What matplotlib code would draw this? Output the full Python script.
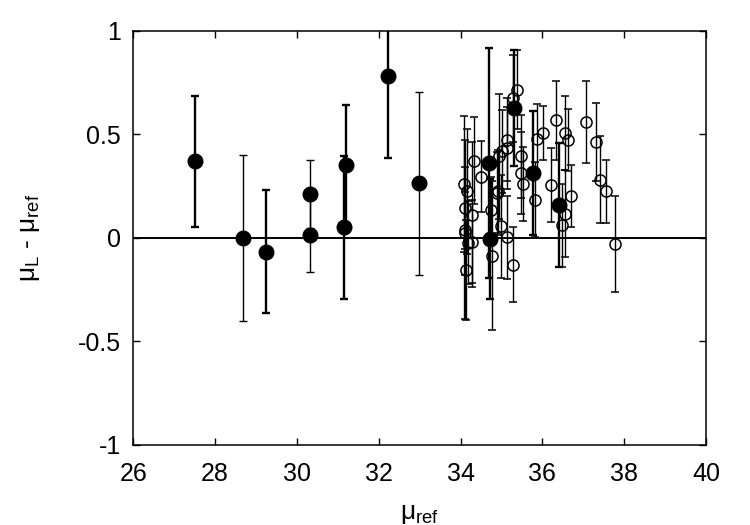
import matplotlib
matplotlib.use('Agg')
from matplotlib import pyplot as plt

plt.rcParams['font.family'] = ['Liberation Sans', 'DejaVu Sans']
plt.rcParams['mathtext.fontset'] = 'custom'
plt.rcParams['mathtext.rm'] = 'Liberation Sans'
plt.rcParams['mathtext.it'] = 'Liberation Sans'

# filled points, thick error bars
fill_x = [27.51, 29.24, 31.21, 31.15, 32.22, 34.69, 34.72, 35.31, 35.78, 36.41]
fill_y = [0.369, -0.066, 0.350, 0.050, 0.780, 0.361, -0.006, 0.627, 0.313, 0.160]
fill_e = [0.318, 0.295, 0.293, 0.343, 0.395, 0.556, 0.290, 0.280, 0.300, 0.300]

# filled points, thin error bars
fthin_x = [28.69, 30.32, 30.32, 32.99]
fthin_y = [0.000, 0.211, 0.016, 0.263]
fthin_e = [0.400, 0.163, 0.180, 0.440]

# open points
open_x = [34.08, 34.11, 34.11, 34.13, 34.15, 34.19, 34.27, 34.29, 34.33, 34.51,
          34.74, 34.78, 34.88, 34.92, 34.94, 35.00, 35.01, 35.13, 35.13, 35.14,
          35.29, 35.29, 35.39, 35.49, 35.49, 35.53, 35.82, 35.86, 36.02, 36.22,
          36.33, 36.49, 36.55, 36.55, 36.63, 36.70, 37.06, 37.31, 37.42, 37.55,
          37.77, 34.12]
open_y = [0.260, 0.144, 0.023, -0.155, 0.224, -0.023, 0.111, -0.018, 0.372, 0.296,
          0.135, -0.087, 0.216, 0.224, 0.393, 0.055, 0.417, 0.003, 0.474, 0.434,
          -0.130, 0.675, 0.716, 0.393, 0.313, 0.261, 0.184, 0.477, 0.506, 0.256,
          0.567, 0.060, 0.506, 0.116, 0.474, 0.200, 0.559, 0.463, 0.280, 0.224,
          -0.029, 0.040]
open_e = [0.330, 0.200, 0.200, 0.240, 0.300, 0.200, 0.350, 0.200, 0.210, 0.170,
          0.160, 0.360, 0.200, 0.200, 0.300, 0.250, 0.200, 0.200, 0.200, 0.200,
          0.180, 0.210, 0.190, 0.200, 0.200, 0.180, 0.180, 0.170, 0.130, 0.180,
          0.190, 0.200, 0.180, 0.210, 0.150, 0.150, 0.200, 0.190, 0.210, 0.150,
          0.230, 0.430]

fig = plt.figure(figsize=(7.5, 5.25), dpi=100)
ax = fig.add_axes([0.1777, 0.1524, 0.7636, 0.7891])

ax.axhline(0, color='black', lw=1.4, zorder=1)

# open circles (the last one has a thicker bar)
ax.errorbar(open_x[:-1], open_y[:-1], yerr=open_e[:-1], fmt='o', ms=8,
            mfc='none', mec='black', mew=1.1, ecolor='black', elinewidth=1.0,
            capsize=3, capthick=1.0, zorder=2)
ax.errorbar(open_x[-1:], open_y[-1:], yerr=open_e[-1:], fmt='o', ms=8,
            mfc='none', mec='black', mew=1.1, ecolor='black', elinewidth=1.7,
            capsize=3, capthick=1.7, zorder=2)

ax.errorbar(fthin_x, fthin_y, yerr=fthin_e, fmt='o', ms=10.5, color='black',
            elinewidth=1.0, capsize=3, capthick=1.0, zorder=3)
ax.errorbar(fill_x, fill_y, yerr=fill_e, fmt='o', ms=10.5, color='black',
            elinewidth=1.7, capsize=3, capthick=1.7, zorder=3)

ax.set_xlim(26, 40)
ax.set_ylim(-1, 1)
ax.set_xticks([26, 28, 30, 32, 34, 36, 38, 40])
ax.set_yticks([-1, -0.5, 0, 0.5, 1])
ax.set_yticklabels(['-1', '-0.5', '0', '0.5', '1'])
ax.tick_params(direction='in', length=5, width=1.0, top=True, right=True,
               labelsize=18, pad=9)
ax.tick_params(axis='x', pad=12)
for s in ax.spines.values():
    s.set_linewidth(1.1)

ax.set_xlabel(r'$\mu_{ref}$', fontsize=19, labelpad=12)
ax.set_ylabel(r'$\mu_L$ - $\mu_{ref}$', fontsize=19, labelpad=26)

fig.savefig('out.png', dpi=100)
